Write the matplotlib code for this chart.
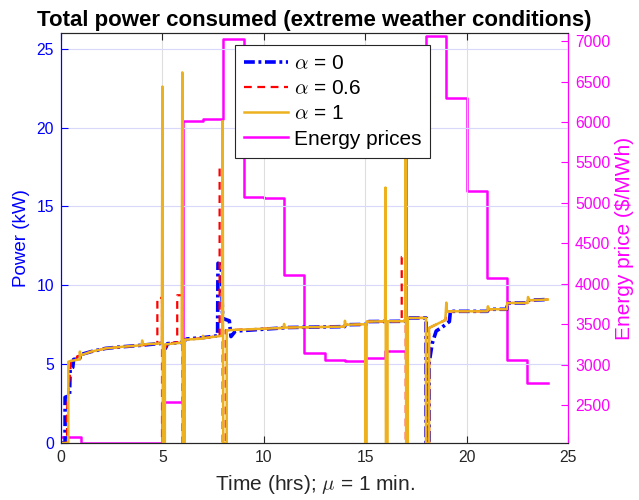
import matplotlib
matplotlib.use('Agg')
import matplotlib.pyplot as plt

plt.rcParams['font.family'] = ['Liberation Sans', 'DejaVu Sans']
plt.rcParams['mathtext.fontset'] = 'cm'

# hourly energy prices ($/MWh), hours 0..23
hours = list(range(25))
prices = [2108, 2030, 2030, 2030, 2030, 2541, 6012, 6037, 7022, 5076, 5063, 4107,
          3146, 3056, 3044, 3077, 3171, 5756, 7063, 6293, 5146, 4070, 3056, 2776]

# total power (kW) as (time, power) vertices
alpha0 = [(0, 0), (0.2, 0), (0.2, 2.9), (0.42, 3.0), (0.45, 4.7), (0.58, 4.8), (0.62, 5.3),
          (0.92, 5.35), (0.95, 5.6), (1.5, 5.8), (2.2, 6.0), (3.0, 6.1), (3.98, 6.2),
          (4.95, 6.32), (5.05, 6.3), (5.15, 6.0), (5.25, 6.3), (5.97, 6.38), (6.05, 6.45),
          (6.2, 6.6), (7.0, 6.68), (7.72, 6.8), (7.74, 11.4), (7.9, 11.3), (7.97, 7.9),
          (8.3, 7.75), (8.38, 6.75), (8.6, 7.1), (10.97, 7.3), (11.03, 7.32), (13.98, 7.38),
          (14.03, 7.5), (15.05, 7.52), (15.1, 7.7), (16.95, 7.72), (17.08, 7.93), (18.0, 7.93),
          (18.0, 0), (18.15, 0), (18.15, 5.05), (18.3, 6.3), (18.5, 7.1), (18.8, 7.35),
          (19.15, 7.7), (19.2, 8.35), (21.02, 8.35), (21.08, 8.48), (21.98, 8.48), (22.0, 8.88),
          (23.0, 8.88), (23.06, 9.05), (24.0, 9.1)]

alpha06 = [(0, 0), (0.3, 0), (0.3, 2.1), (0.38, 3.6), (0.42, 4.1), (0.5, 5.2), (0.75, 5.3),
           (0.8, 5.5), (0.95, 5.55), (1.5, 5.8), (2.2, 6.0), (3.0, 6.1), (3.98, 6.2),
           (4.75, 6.3), (4.75, 9.2), (4.98, 9.2), (4.98, 0), (5.1, 0), (5.1, 5.9), (5.22, 6.3),
           (5.73, 6.38), (5.73, 9.37), (5.98, 9.37), (5.98, 0), (6.1, 0), (6.1, 6.55),
           (7.0, 6.65), (7.82, 6.8), (7.82, 17.5), (7.97, 17.5), (7.97, 0), (8.12, 0),
           (8.12, 7.15), (10.97, 7.3), (11.03, 7.32), (13.98, 7.38), (14.03, 7.5), (15.05, 7.52),
           (15.1, 7.7), (16.8, 7.72), (16.8, 11.8), (17.0, 11.8), (17.0, 0), (17.08, 0),
           (17.08, 7.93), (18.0, 7.93), (18.0, 0), (18.15, 0), (18.15, 7.3), (18.95, 7.8),
           (19.03, 8.35), (21.02, 8.35), (21.08, 8.48), (21.98, 8.48), (22.0, 8.88),
           (23.0, 8.88), (23.06, 9.05), (24.0, 9.1)]

alpha1 = [(0, 0), (0.36, 0), (0.36, 5.15), (0.46, 5.2), (0.92, 5.3), (0.93, 5.8), (0.95, 5.55),
          (1.5, 5.8), (2.2, 6.0), (3.0, 6.1), (3.98, 6.2), (4.0, 6.5), (4.03, 6.25),
          (4.97, 6.32), (5.0, 22.6), (5.02, 0), (5.12, 0), (5.12, 6.25), (5.95, 6.36),
          (5.98, 23.5), (6.0, 0), (6.1, 0), (6.1, 6.55), (6.98, 6.62), (7.0, 6.8), (7.03, 6.65),
          (7.95, 6.8), (7.97, 20.4), (8.0, 0), (8.17, 0), (8.17, 7.15), (10.97, 7.3),
          (11.0, 7.55), (11.03, 7.32), (13.98, 7.38), (14.0, 7.75), (14.03, 7.5), (15.0, 7.53),
          (15.0, 0), (15.07, 0), (15.07, 7.7), (15.98, 7.72), (16.0, 16.2), (16.02, 0),
          (16.1, 0), (16.1, 7.72), (16.98, 7.72), (17.0, 21.0), (17.02, 0), (17.1, 0),
          (17.1, 7.93), (18.0, 7.93), (18.0, 0), (18.15, 0), (18.15, 7.3), (18.95, 7.8),
          (19.0, 8.9), (19.03, 8.35), (21.02, 8.35), (21.05, 8.67), (21.08, 8.48),
          (21.98, 8.48), (22.0, 8.88), (23.0, 8.88), (23.03, 9.26), (23.06, 9.05), (24.0, 9.1)]

labels = [r'$\alpha$ = 0', r'$\alpha$ = 0.6', r'$\alpha$ = 1', 'Energy prices']

fig = plt.figure(figsize=(6.39, 5), dpi=100)
ax1 = fig.add_axes([0.0955, 0.114, 0.7934, 0.82])
ax2 = ax1.twinx()
ax1.set_zorder(ax2.get_zorder() + 1)
ax1.patch.set_visible(False)

# price on right axis
l4, = ax2.step(hours, prices + [prices[-1]], where='post', color='#ff00ff', lw=1.8)

t0, p0 = zip(*alpha0)
t6, p6 = zip(*alpha06)
t1, p1 = zip(*alpha1)
l1, = ax1.plot(t0, p0, color='#0000ff', lw=2.6, dashes=(3.0, 1.0, 0.8, 1.0))
l2, = ax1.plot(t6, p6, color='#ff0000', lw=1.6, dashes=(3.5, 2.5))
l3, = ax1.plot(t1, p1, color='#edb120', lw=1.8)

ax1.set_xlim(0, 25)
ax1.set_ylim(0, 26)
ax2.set_ylim(2030, 7100)
ax1.set_xticks([0, 5, 10, 15, 20, 25])
ax1.set_yticks([0, 5, 10, 15, 20, 25])
ax2.set_yticks([2500, 3000, 3500, 4000, 4500, 5000, 5500, 6000, 6500, 7000])

ax1.grid(axis='x', color='#dedede', lw=0.8)
ax1.grid(axis='y', color='#d8d8fb', lw=0.8)

ax1.tick_params(axis='x', direction='in', top=True, length=5, colors='#262626', labelsize=11.3, pad=5)
ax1.tick_params(axis='y', direction='in', length=5, colors='#0000ff', labelsize=11.3, pad=5)
ax2.tick_params(axis='y', direction='in', length=5, colors='#ff00ff', labelsize=11.3, pad=5)

for ax in (ax1, ax2):
    ax.spines['top'].set_color('#262626')
    ax.spines['bottom'].set_color('#262626')
    ax.spines['left'].set_color('#0000ff')
    ax.spines['right'].set_color('#ff00ff')

ax1.set_ylabel('Power (kW)', color='#0000ff', fontsize=13.5, labelpad=5)
ax2.set_ylabel('Energy price ($/MWh)', color='#ff00ff', fontsize=15, labelpad=3)
ax1.set_xlabel(r'Time (hrs); $\mu$ = 1 min.', color='#262626', fontsize=15, labelpad=6)
ax1.set_title('Total power consumed (extreme weather conditions)', fontsize=16,
              fontweight='bold', pad=5)

leg = ax1.legend([l1, l2, l3, l4], labels, loc='upper left', bbox_to_anchor=(0.343, 0.971),
                 fontsize=15, fancybox=False, framealpha=1, edgecolor='#262626',
                 handlelength=2.1, handletextpad=0.3, labelspacing=0.3, borderpad=0.43,
                 borderaxespad=0)
leg.get_frame().set_linewidth(0.8)

plt.savefig('out.png', dpi=100)
